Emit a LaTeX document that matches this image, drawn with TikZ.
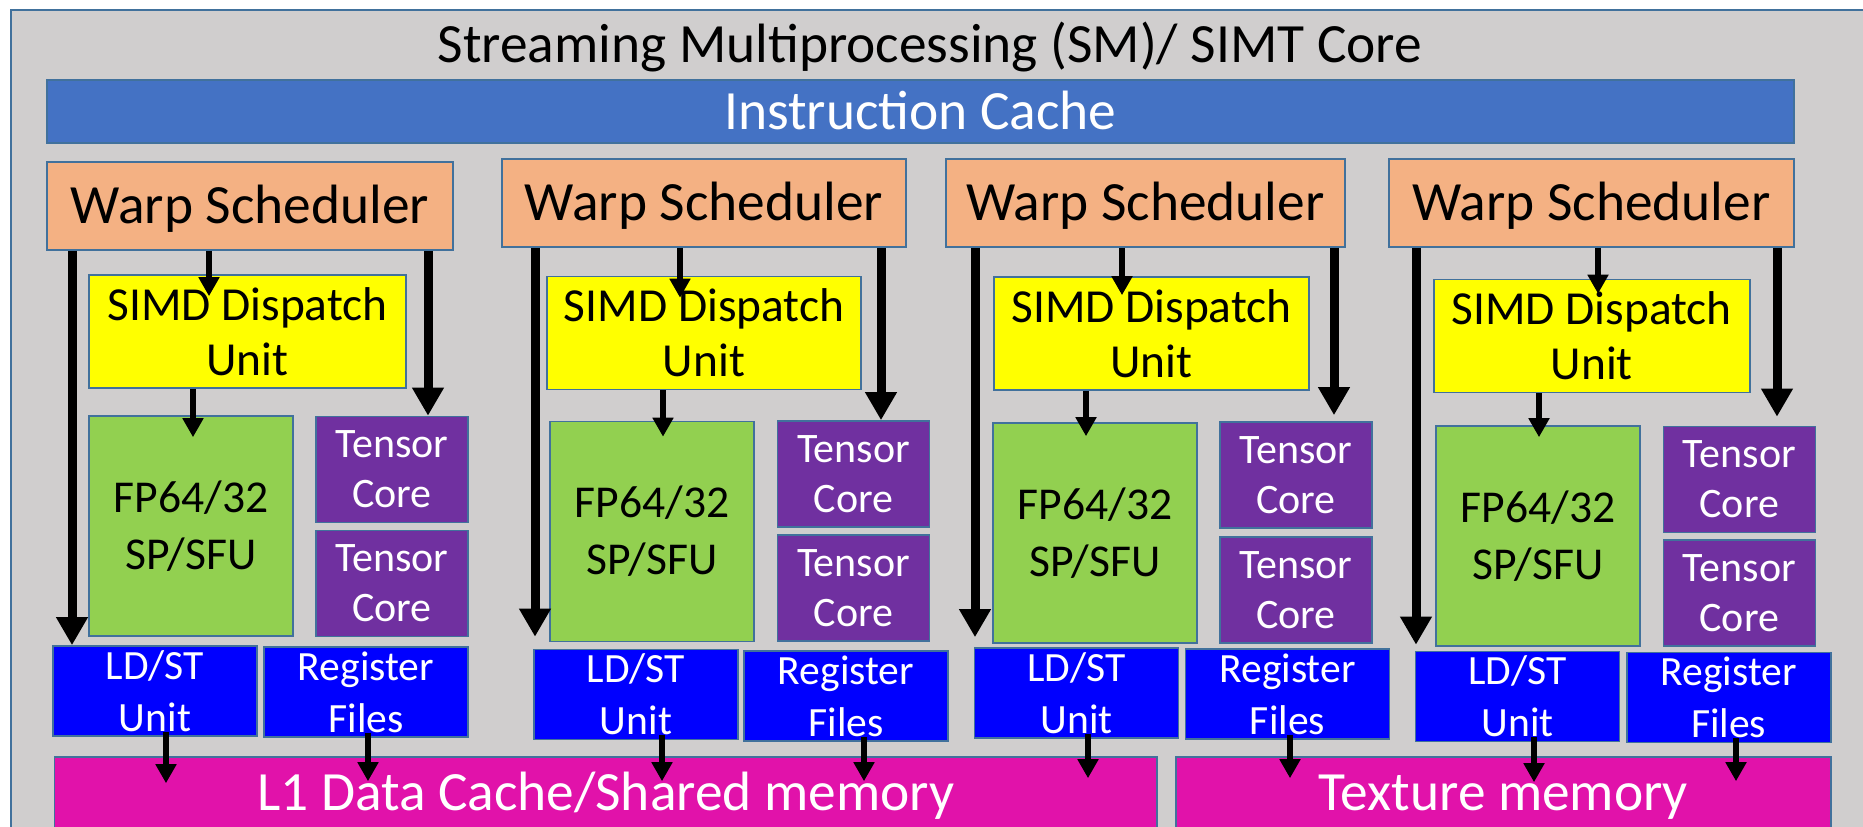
\documentclass[tikz,border=0pt]{standalone}
\usepackage{fontspec}
\setmainfont{Carlito}
\usetikzlibrary{arrows.meta}
\definecolor{smgray}{RGB}{208,206,206}
\definecolor{edgeblue}{RGB}{65,113,156}
\definecolor{cacheblue}{RGB}{68,114,196}
\definecolor{warporange}{RGB}{244,177,131}
\definecolor{simdyellow}{RGB}{255,255,0}
\definecolor{fpgreen}{RGB}{146,208,80}
\definecolor{tensorpurple}{RGB}{112,48,160}
\definecolor{unitblue}{RGB}{0,0,255}
\definecolor{memmagenta}{RGB}{225,18,170}

\begin{document}
\begin{tikzpicture}[x=0.5pt, y=-0.5pt,
	box/.style={draw=edgeblue, line width=0.8pt, inner sep=0pt, align=center},
	oneline/.style={text height=17.5pt, text depth=0pt},
	warp/.style={box, oneline, fill=warporange, minimum height=44pt, font=\fontsize{27.7}{33}\selectfont},
	simd/.style={box, fill=simdyellow, minimum height=56.5pt, font=\fontsize{23.7}{27.5}\selectfont},
	fpu/.style={box, fill=fpgreen, minimum width=102pt, minimum height=110pt, font=\fontsize{22.8}{28.5}\selectfont},
	tensor/.style={box, fill=tensorpurple, text=white, minimum width=76pt, minimum height=53pt, font=\fontsize{21}{25}\selectfont},
	unit/.style={box, fill=unitblue, text=white, minimum width=102pt, minimum height=45pt, font=\fontsize{20.8}{26}\selectfont},
	mem/.style={box, oneline, fill=memmagenta, text=white, minimum height=36pt, font=\fontsize{27.7}{33}\selectfont},
	bigarrow/.style={line width=4.5pt, -{Triangle[width=15pt,length=14pt]}},
	smallarrow/.style={line width=3pt, -{Triangle[width=10pt,length=9.5pt]}}]

	\useasboundingbox (0,0) rectangle (1863,826);
	\fill[white] (0,0) rectangle (1863,826);
	\clip (0,0) rectangle (1863,826);

	% SM frame
	\draw[edgeblue, fill=smgray, line width=0.8pt] (10.7,10) rectangle (1880,845);
	\node[anchor=base, font=\fontsize{27.7}{33}\selectfont] (title) at (930,62) {Streaming Multiprocessing (SM)/ SIMT Core};
	\node[box, oneline, fill=cacheblue, text=white, minimum width=873.5pt, minimum height=31.5pt, font=\fontsize{27.7}{33}\selectfont] (icache) at (920.4,111.5) {Instruction Cache};

	% column 1
	\node[warp, minimum width=203pt] (ws1) at (250,206) {Warp Scheduler};
	\node[simd, minimum width=158.5pt] (sd1) at (247.5,331.5) {SIMD Dispatch\\Unit};
	\node[fpu] (fp1) at (191,526) {FP64/32\\SP/SFU};
	\node[tensor] (tc1a) at (392,469.5) {Tensor\\Core};
	\node[tensor] (tc1b) at (392,583.5) {Tensor\\Core};
	\node[unit] (ls1) at (155,691) {LD/ST\\Unit};
	\node[unit] (rf1) at (366,692) {Register\\Files};

	% column 2
	\node[warp, minimum width=202pt] (ws2) at (704,203) {Warp Scheduler};
	\node[simd, minimum width=157pt] (sd2) at (704,333) {SIMD Dispatch\\Unit};
	\node[fpu] (fp2) at (652,531.5) {FP64/32\\SP/SFU};
	\node[tensor] (tc2a) at (853.5,474) {Tensor\\Core};
	\node[tensor] (tc2b) at (853.5,588) {Tensor\\Core};
	\node[unit] (ls2) at (636,694.5) {LD/ST\\Unit};
	\node[unit] (rf2) at (846,696) {Register\\Files};

	% column 3
	\node[warp, minimum width=199.5pt] (ws3) at (1145.5,203) {Warp Scheduler};
	\node[simd, minimum width=157.5pt] (sd3) at (1151.5,333.5) {SIMD Dispatch\\Unit};
	\node[fpu] (fp3) at (1095,533) {FP64/32\\SP/SFU};
	\node[tensor] (tc3a) at (1296,475) {Tensor\\Core};
	\node[tensor] (tc3b) at (1296,590) {Tensor\\Core};
	\node[unit] (ls3) at (1076.5,693) {LD/ST\\Unit};
	\node[unit] (rf3) at (1287.5,694) {Register\\Files};

	% column 4
	\node[warp, minimum width=202.5pt] (ws4) at (1591.5,203) {Warp Scheduler};
	\node[simd, minimum width=158pt] (sd4) at (1591.75,336) {SIMD Dispatch\\Unit};
	\node[fpu] (fp4) at (1538,536) {FP64/32\\SP/SFU};
	\node[tensor] (tc4a) at (1739.3,479.5) {Tensor\\Core};
	\node[tensor] (tc4b) at (1739.3,593) {Tensor\\Core};
	\node[unit] (ls4) at (1517.5,696.5) {LD/ST\\Unit};
	\node[unit] (rf4) at (1728.7,697.5) {Register\\Files};

	% memories
	\node[mem, minimum width=551.2pt] (l1) at (605.8,793) {L1 Data Cache/Shared memory};
	\node[mem, minimum width=327.4pt] (tex) at (1503.4,793) {Texture memory};

	% arrows, column 1
	\draw[bigarrow] (ws1.south -| 72,0) -- (ls1.north -| 72,0);
	\draw[bigarrow] (ws1.south -| 428,0) -- (tc1a.north -| 428,0);
	\draw[smallarrow, shorten >=-11pt] (ws1.south -| 209,0) -- (sd1.north -| 209,0);
	\draw[smallarrow, shorten >=-11pt] (sd1.south -| 193,0) -- (fp1.north -| 193,0);
	\draw[smallarrow, shorten <=-2.5pt, shorten >=-13.5pt] (ls1.south -| 166,0) -- (l1.north -| 166,0);
	\draw[smallarrow, shorten <=-2.5pt, shorten >=-12.5pt] (rf1.south -| 368,0) -- (l1.north -| 368,0);

	% arrows, column 2
	\draw[bigarrow, shorten >=6pt] (ws2.south -| 535,0) -- (ls2.north -| 535,0);
	\draw[bigarrow] (ws2.south -| 881,0) -- (tc2a.north -| 881,0);
	\draw[smallarrow, shorten >=-11pt] (ws2.south -| 680,0) -- (sd2.north -| 680,0);
	\draw[smallarrow, shorten >=-8pt] (sd2.south -| 663,0) -- (fp2.north -| 663,0);
	\draw[smallarrow, shorten <=-2.5pt, shorten >=-12.5pt] (ls2.south -| 662,0) -- (l1.north -| 662,0);
	\draw[smallarrow, shorten <=-2.5pt, shorten >=-12.5pt] (rf2.south -| 864,0) -- (l1.north -| 864,0);

	% arrows, column 3
	\draw[bigarrow, shorten >=5pt] (ws3.south -| 975,0) -- (ls3.north -| 975,0);
	\draw[bigarrow, shorten >=3pt] (ws3.south -| 1334,0) -- (tc3a.north -| 1334,0);
	\draw[smallarrow, shorten >=-9.5pt] (ws3.south -| 1122,0) -- (sd3.north -| 1122,0);
	\draw[smallarrow, shorten >=-7pt] (sd3.south -| 1086,0) -- (fp3.north -| 1086,0);
	\draw[smallarrow, shorten <=-2.5pt, shorten >=-11pt] (ls3.south -| 1088,0) -- (l1.north -| 1088,0);
	\draw[smallarrow, shorten <=-2.5pt, shorten >=-11pt] (rf3.south -| 1290,0) -- (tex.north -| 1290,0);

	% arrows, column 4
	\draw[bigarrow, shorten >=3pt] (ws4.south -| 1416,0) -- (ls4.north -| 1416,0);
	\draw[bigarrow, shorten >=4.5pt] (ws4.south -| 1777,0) -- (tc4a.north -| 1777,0);
	\draw[smallarrow, shorten >=-7.5pt] (ws4.south -| 1598,0) -- (sd4.north -| 1598,0);
	\draw[smallarrow, shorten >=-6pt] (sd4.south -| 1539,0) -- (fp4.north -| 1539,0);
	\draw[smallarrow, shorten <=-2.5pt, shorten >=-13pt] (ls4.south -| 1534,0) -- (tex.north -| 1534,0);
	\draw[smallarrow, shorten <=-2.5pt, shorten >=-12.5pt] (rf4.south -| 1736,0) -- (tex.north -| 1736,0);

\end{tikzpicture}
\end{document}
